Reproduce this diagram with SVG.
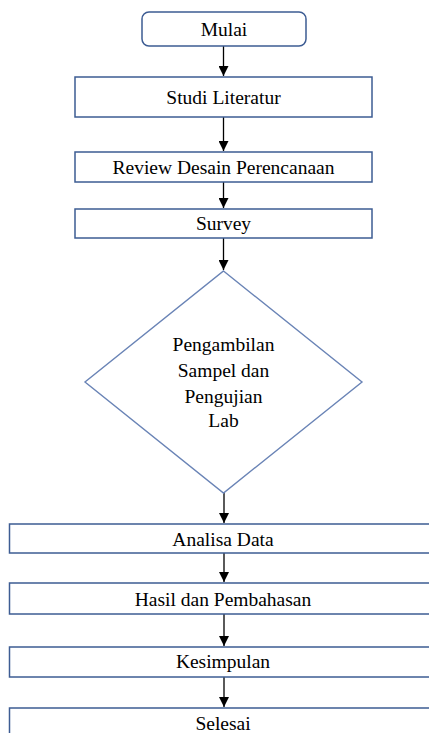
<svg xmlns="http://www.w3.org/2000/svg" width="429" height="733" viewBox="0 0 429 733">
<defs>
<marker id="ah" markerUnits="userSpaceOnUse" markerWidth="11" markerHeight="10" refX="10" refY="5" orient="auto" viewBox="0 0 11 10">
<path d="M0,0 L10,5 L0,10 Z" fill="#000"/>
</marker>
</defs>
<style>
.box{fill:#fff;stroke:#3d5c93;stroke-width:1.5}
.dia{fill:#fff;stroke:#6a84b6;stroke-width:1.4}
.t{font-family:"Liberation Serif","Times New Roman",serif;font-size:19.5px;fill:#000;text-anchor:middle}
.c{stroke:#000;stroke-width:1.3;fill:none}
</style>
<rect width="429" height="733" fill="#fff"/>
<g id="connectors">
<path class="c" d="M223.5,46 V76" marker-end="url(#ah)"/>
<path class="c" d="M223.5,117 V151" marker-end="url(#ah)"/>
<path class="c" d="M223.5,182 V208" marker-end="url(#ah)"/>
<path class="c" d="M223.5,238 V270" marker-end="url(#ah)"/>
<path class="c" d="M224,493 V523" marker-end="url(#ah)"/>
<path class="c" d="M224,553 V582" marker-end="url(#ah)"/>
<path class="c" d="M224,614 V646" marker-end="url(#ah)"/>
<path class="c" d="M224,677 V707" marker-end="url(#ah)"/>
</g>
<g id="mulai">
<rect class="box" x="142" y="12" width="164" height="34" rx="7"/>
<text class="t" x="224" y="36">Mulai</text>
</g>
<g id="studi">
<rect class="box" x="75" y="77" width="297" height="40"/>
<text class="t" x="223.5" y="104">Studi Literatur</text>
</g>
<g id="review">
<rect class="box" x="75" y="152" width="297" height="30"/>
<text class="t" x="223.5" y="174">Review Desain Perencanaan</text>
</g>
<g id="survey">
<rect class="box" x="75" y="209" width="297" height="29"/>
<text class="t" x="223.5" y="230">Survey</text>
</g>
<g id="pengambilan">
<polygon class="dia" points="223.5,271 362,382 223.5,493 85,382"/>
<text class="t" x="223.5" y="351">Pengambilan</text>
<text class="t" x="223.5" y="377">Sampel dan</text>
<text class="t" x="223.5" y="403">Pengujian</text>
<text class="t" x="223.5" y="427">Lab</text>
</g>
<g id="analisa">
<rect class="box" x="9.5" y="524" width="430" height="29"/>
<text class="t" x="223" y="546">Analisa Data</text>
</g>
<g id="hasil">
<rect class="box" x="9.5" y="583" width="430" height="31"/>
<text class="t" x="223" y="606">Hasil dan Pembahasan</text>
</g>
<g id="kesimpulan">
<rect class="box" x="9.5" y="647" width="430" height="30"/>
<text class="t" x="223" y="668">Kesimpulan</text>
</g>
<g id="selesai">
<rect class="box" x="9.5" y="708" width="430" height="40"/>
<text class="t" x="223" y="730">Selesai</text>
</g>
</svg>
